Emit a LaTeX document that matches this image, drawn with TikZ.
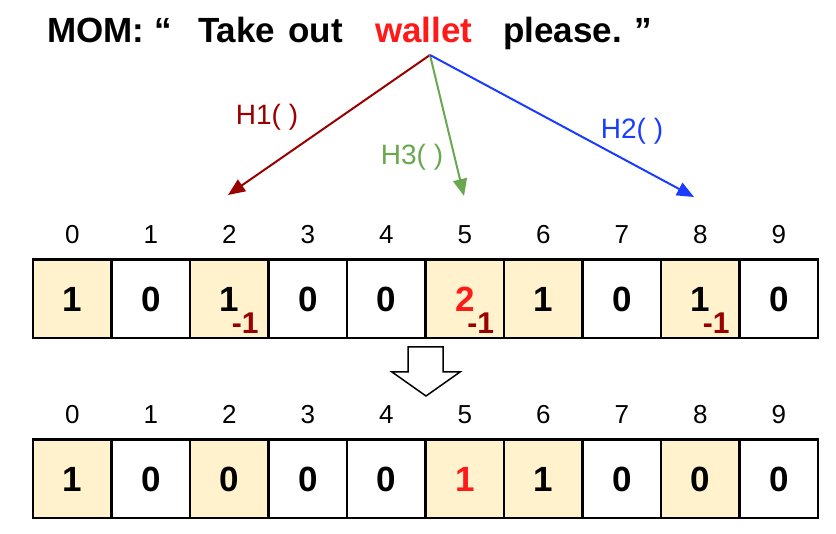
\documentclass[tikz,border=0pt]{standalone}
\usepackage{fontspec}
\setmainfont{Liberation Sans}
\usetikzlibrary{arrows.meta,positioning}
\definecolor{cellfill}{HTML}{FFF2CC}
\definecolor{hred}{HTML}{990000}
\definecolor{hgreen}{HTML}{6AA84F}
\definecolor{hblue}{HTML}{1A3CFF}
\definecolor{hot}{HTML}{FF1A1A}

\begin{document}
\begin{tikzpicture}[x=1pt,y=-1pt,
            title/.style={anchor=base west, inner sep=0pt, font=\fontsize{35}{40}\selectfont\bfseries},
            cell/.style={draw, line width=2.5pt, minimum size=78.5pt, inner sep=0pt, font=\fontsize{35}{40}\selectfont\bfseries},
            idx/.style={inner sep=0pt, font=\fontsize{26}{30}\selectfont},
            dec/.style={inner sep=0pt, anchor=south east, text=hred, font=\fontsize{30}{34}\selectfont\bfseries},
            hlab/.style={inner sep=0pt, anchor=base, font=\fontsize{28}{32}\selectfont},
            to/.style={-{Triangle[length=17pt,width=14pt]}, line width=2pt}
  ]
  \useasboundingbox (0,0) rectangle (836,534);

  % sentence
  \node[title] (mom) at (47,43) {MOM: “};
  \node[title] (take) at (198,43) {Take\hspace{13pt}out};
  \node[title, text=hot] (wallet) at (375,43) {wallet};
  \node[title] (please) at (503,43) {please. ”};

  % hash functions
  \coordinate (hub) at (430,55);
  \coordinate (t1) at (228,195);
  \coordinate (t3) at (464,196);
  \coordinate (t2) at (694,197);

  \draw[to, hred] (hub) -- (t1);
  \draw[to, hgreen] (hub) -- (t3);
  \draw[to, hblue] (hub) -- (t2);

  \node[hlab, text=hred] (h1) at (267,125) {H1( )};
  \node[hlab, text=hgreen] (h3) at (412,165) {H3( )};
  \node[hlab, text=hblue] (h2) at (632,139) {H2( )};

  % before delete
  \foreach \i/\v/\f/\c in {0/1/cellfill/black,1/0/white/black,2/1/cellfill/black,3/0/white/black,4/0/white/black,
                           5/2/cellfill/hot,6/1/cellfill/black,7/0/white/black,8/1/cellfill/black,9/0/white/black}
  {
    \node[cell, fill=\f, text=\c] (a\i) at (72.25+78.5*\i, 299) {\v};
    \node[idx, above=15pt of a\i] (n\i) {\i};
  }
  \foreach \i in {2,5,8}
    \node[dec] (d\i) at ([shift={(-11pt,6pt)}]a\i.south east) {-1};

  % open arrow
  \draw[line width=1.5pt] (408,347) -- (443,347) -- (443,372) -- (460,372) -- (426,396) -- (392,372) -- (408,372) -- cycle;

  % after delete
  \foreach \i/\v/\f/\c in {0/1/cellfill/black,1/0/white/black,2/0/cellfill/black,3/0/white/black,4/0/white/black,
                           5/1/cellfill/hot,6/1/cellfill/black,7/0/white/black,8/0/cellfill/black,9/0/white/black}
  {
    \node[cell, fill=\f, text=\c] (b\i) at (72.25+78.5*\i, 479) {\v};
    \node[idx, above=15pt of b\i] (m\i) {\i};
  }

\end{tikzpicture}
\end{document}
